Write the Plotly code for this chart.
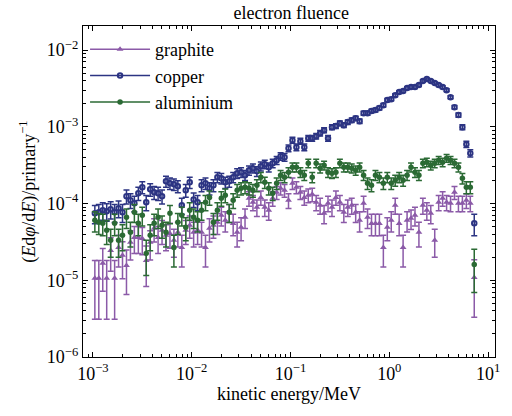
import plotly.graph_objects as go

# bin centres (MeV)
energy = [
    1.047e-3, 1.148e-3, 1.259e-3, 1.380e-3, 1.514e-3, 1.660e-3, 1.820e-3, 1.995e-3, 2.188e-3, 2.399e-3,
    2.630e-3, 2.884e-3, 3.162e-3, 3.467e-3, 3.802e-3, 4.169e-3, 4.571e-3, 5.012e-3, 5.495e-3, 6.026e-3,
    6.607e-3, 7.244e-3, 7.943e-3, 8.710e-3, 9.550e-3,
    1.047e-2, 1.148e-2, 1.259e-2, 1.380e-2, 1.514e-2, 1.660e-2, 1.820e-2, 1.995e-2, 2.188e-2, 2.399e-2,
    2.630e-2, 2.884e-2, 3.162e-2, 3.467e-2, 3.802e-2, 4.169e-2, 4.571e-2, 5.012e-2, 5.495e-2, 6.026e-2,
    6.607e-2, 7.244e-2, 7.943e-2, 8.710e-2, 9.550e-2,
    1.047e-1, 1.148e-1, 1.259e-1, 1.380e-1, 1.514e-1, 1.660e-1, 1.820e-1, 1.995e-1, 2.188e-1, 2.399e-1,
    2.630e-1, 2.884e-1, 3.162e-1, 3.467e-1, 3.802e-1, 4.169e-1, 4.571e-1, 5.012e-1, 5.495e-1, 6.026e-1,
    6.607e-1, 7.244e-1, 7.943e-1, 8.710e-1, 9.550e-1,
    1.047, 1.148, 1.259, 1.380, 1.514, 1.660, 1.820, 1.995, 2.188, 2.399,
    2.630, 2.884, 3.162, 3.467, 3.802, 4.169, 4.571, 5.012, 5.495, 6.026,
    6.607, 7.244,
]

UNIT = 1e-5  # values below are in units of 1e-5 per primary

graphite = [
    1.06, 1.06, 1.66, 1.06, 2.45, 1.06, 2.68, 2.11, 1.56, 3.12,
    3.62, 3.62, 3.51, 1.81, 3.12, 4.75, 3.62, 4.47, 3.85, 4.08,
    3.31, 4.21, 2.68, 4.47, 5.19, 4.21, 4.47, 4.21, 2.68, 4.75,
    5.19, 5.68, 7.01, 6.04, 7.67, 5.51, 4.21, 4.89, 6.60, 11.7,
    10.4, 8.92, 12.0, 8.92, 8.15, 11.7, 14.0, 15.8, 14.9, 11.0,
    18.4, 16.3, 14.0, 12.0, 12.8, 13.2, 10.4, 9.48, 7.45, 10.1,
    8.92, 12.0, 10.4, 7.67, 8.92, 9.48, 7.67, 6.04, 10.1, 6.60,
    5.51, 5.51, 5.51, 2.68, 4.89, 6.04, 9.48, 5.51, 2.68, 6.04,
    6.41, 7.01, 4.21, 9.48, 8.15, 7.45, 3.31, 10.4, 11.7, 10.4,
    10.1, 14.0, 10.1, 10.1, 11.0, 10.1, 1.09,
]
graphite_err = [
    0.75, 0.75, 0.94, 0.75, 1.14, 0.75, 1.19, 1.06, 0.91, 1.29,
    1.39, 1.39, 1.36, 0.98, 1.29, 1.59, 1.39, 1.54, 1.43, 1.47,
    1.32, 1.49, 1.19, 1.54, 1.66, 1.49, 1.54, 1.49, 1.19, 1.59,
    1.66, 1.73, 1.93, 1.79, 2.02, 1.71, 1.49, 1.61, 1.87, 2.49,
    2.35, 2.17, 2.52, 2.17, 2.08, 2.49, 2.72, 2.89, 2.81, 2.41,
    3.12, 2.94, 2.72, 2.52, 2.60, 2.65, 2.35, 2.24, 1.99, 2.31,
    2.17, 2.52, 2.35, 2.02, 2.17, 2.24, 2.02, 1.79, 2.31, 1.87,
    1.71, 1.71, 1.71, 1.19, 1.61, 1.79, 2.24, 1.71, 1.19, 1.79,
    1.84, 1.93, 1.49, 2.24, 2.08, 1.99, 1.32, 2.35, 2.49, 2.35,
    2.31, 2.72, 2.31, 2.31, 2.41, 2.31, 0.76,
]

copper = [
    7.45, 7.67, 8.15, 7.91, 8.40, 7.67, 8.65, 7.67, 12.4, 11.0,
    10.1, 13.6, 16.3, 10.4, 15.3, 14.0, 13.6, 12.4, 19.5, 18.4,
    17.8, 16.8, 9.48, 14.9, 18.9, 11.3, 10.4, 17.3, 18.4, 15.8,
    17.3, 22.0, 21.3, 18.9, 19.5, 22.0, 24.8, 25.5, 23.4, 27.1,
    28.8, 26.3, 30.6, 32.5, 29.7, 33.5, 36.6, 41.3, 40.1, 52.6,
    66.8, 54.2, 64.9, 54.2, 71.0, 71.0, 75.4, 82.5, 90.3, 71.0,
    98.8, 102, 111, 105, 115, 122, 129, 118, 150, 150,
    160, 165, 175, 191, 223, 229, 258, 283, 292, 319,
    329, 329, 349, 395, 418, 395, 371, 349, 329, 300,
    243, 180, 142, 98.8, 59.3, 45.2, 5.52,
]
copper_err = [
    1.99, 2.02, 2.08, 2.05, 2.11, 2.02, 2.14, 2.02, 2.56, 2.41,
    2.31, 2.68, 2.94, 2.35, 2.85, 2.72, 2.68, 2.56, 3.21, 3.12,
    3.07, 2.98, 2.24, 2.81, 3.17, 2.45, 2.35, 3.03, 3.12, 2.89,
    3.03, 3.41, 3.36, 3.17, 3.21, 3.41, 3.63, 3.68, 3.52, 3.79,
    3.91, 3.73, 4.03, 4.15, 3.97, 4.21, 4.40, 4.68, 4.61, 5.28,
    5.95, 5.36, 5.86, 5.36, 6.13, 6.13, 6.32, 6.61, 6.92, 6.13,
    7.24, 7.35, 7.67, 7.46, 7.81, 8.04, 8.27, 7.91, 8.92, 8.92,
    9.21, 9.35, 9.63, 10.1, 10.9, 11.0, 11.7, 12.2, 12.4, 13.0,
    13.2, 13.2, 13.6, 14.5, 14.9, 14.5, 14.0, 13.6, 13.2, 12.6,
    11.3, 9.77, 8.68, 7.24, 5.61, 4.89, 1.71,
]

aluminium = [
    6.04, 5.68, 5.52, 4.47, 3.31, 5.52, 3.31, 3.85, 6.60, 4.21,
    7.67, 5.52, 7.01, 2.24, 3.85, 5.52, 6.60, 5.19, 4.21, 7.45,
    2.68, 5.68, 7.01, 4.89, 8.15, 6.60, 6.04, 8.15, 10.4, 12.0,
    5.68, 8.15, 11.7, 12.8, 7.67, 11.0, 14.9, 15.8, 16.3, 15.8,
    14.9, 17.3, 22.0, 18.9, 15.8, 13.6, 18.4, 23.4, 22.0, 25.5,
    29.7, 29.7, 25.5, 23.4, 33.5, 22.0, 33.5, 28.8, 31.5, 25.5,
    24.8, 25.5, 33.5, 29.7, 29.7, 28.8, 27.1, 29.7, 23.4, 18.4,
    17.3, 23.4, 22.0, 18.4, 22.0, 18.4, 20.1, 22.0, 20.1, 23.4,
    29.7, 25.5, 23.4, 33.5, 34.5, 31.5, 33.5, 36.6, 34.5, 38.9,
    36.6, 33.5, 29.7, 21.3, 16.3, 16.3, 1.61,
]
aluminium_err = [
    1.79, 1.73, 1.71, 1.54, 1.32, 1.71, 1.32, 1.43, 1.87, 1.49,
    2.02, 1.71, 1.93, 1.09, 1.43, 1.71, 1.87, 1.66, 1.49, 1.99,
    1.19, 1.73, 1.93, 1.61, 2.08, 1.87, 1.79, 2.08, 2.35, 2.52,
    1.73, 2.08, 2.49, 2.60, 2.02, 2.41, 2.81, 2.89, 2.94, 2.89,
    2.81, 3.03, 3.41, 3.17, 2.89, 2.68, 3.12, 3.52, 3.41, 3.68,
    3.97, 3.97, 3.68, 3.52, 4.21, 3.41, 4.21, 3.91, 4.09, 3.68,
    3.63, 3.68, 4.21, 3.97, 3.97, 3.91, 3.79, 3.97, 3.52, 3.12,
    3.03, 3.52, 3.41, 3.12, 3.41, 3.12, 3.26, 3.41, 3.26, 3.52,
    3.97, 3.68, 3.52, 4.21, 4.28, 4.09, 4.21, 4.40, 4.28, 4.54,
    4.40, 4.21, 3.97, 3.36, 2.94, 2.94, 0.92,
]

x_tickvals = [1e-3, 1e-2, 1e-1, 1e0, 1e1]
x_ticktext = ["10<sup>−3</sup>", "10<sup>−2</sup>", "10<sup>−1</sup>", "10<sup>0</sup>", "10<sup>1</sup>"]
y_tickvals = [1e-6, 1e-5, 1e-4, 1e-3, 1e-2]
y_ticktext = ["10<sup>−6</sup>", "10<sup>−5</sup>", "10<sup>−4</sup>", "10<sup>−3</sup>", "10<sup>−2</sup>"]

FONT = "Times New Roman"
series = [
    ("graphite", graphite, graphite_err, "#8b5aa8", "triangle-up", 6, 0),
    ("copper", copper, copper_err, "#2c3483", "circle-open", 4.5, 2),
    ("aluminium", aluminium, aluminium_err, "#2b6a34", "circle", 5.5, 0),
]

fig = go.Figure()
for name, vals, errs, col, sym, size, lw in series:
    fig.add_trace(go.Scatter(
        x=energy, y=[v * UNIT for v in vals], mode="markers", name=name,
        showlegend=False,
        marker=dict(symbol=sym, size=size, color=col, line=dict(color=col, width=lw)),
        error_y=dict(type="data", array=[e * UNIT for e in errs], visible=True,
                     color=col, thickness=1.5, width=3),
    ))
for name, vals, errs, col, sym, size, lw in series:
    fig.add_trace(go.Scatter(
        x=[None], y=[None], mode="lines+markers", name=name,
        line=dict(color=col, width=1.5),
        marker=dict(symbol=sym, size=size, color=col, line=dict(color=col, width=lw)),
    ))

minor_vals = [m * 10.0 ** e for e in range(-7, 2) for m in range(2, 10)]
axis_common = dict(
    type="log", showline=True, linecolor="black", linewidth=1.3, mirror="ticks",
    ticks="inside", ticklen=5, tickwidth=1, tickcolor="black", showgrid=False, zeroline=False,
    tickfont=dict(family=FONT, size=18, color="black"), ticklabeloverflow="allow",
    minor=dict(ticks="inside", ticklen=3, tickwidth=1, tickcolor="black", tickvals=minor_vals, showgrid=False),
)
fig.update_xaxes(**axis_common, range=[-3.1, 1.07], tickmode="array",
                 tickvals=x_tickvals, ticktext=x_ticktext,
                 title=dict(text="kinetic energy/MeV", font=dict(family=FONT, size=18, color="black"), standoff=2))
fig.update_yaxes(**axis_common, range=[-6.0, -1.687], tickmode="array",
                 tickvals=y_tickvals, ticktext=y_ticktext,
                 title=dict(text="(<i>E</i>d<i>φ</i>/d<i>E</i>)/primary<sup>−1</sup>",
                            font=dict(family=FONT, size=18, color="black"), standoff=6))
fig.update_layout(
    width=512, height=416,
    margin=dict(l=83, r=12, t=26, b=59),
    paper_bgcolor="white", plot_bgcolor="white",
    title=dict(text="electron fluence", x=0.569, xanchor="center", y=0.985, yanchor="top",
               font=dict(family=FONT, size=18, color="black")),
    legend=dict(x=0.005, y=0.985, xanchor="left", yanchor="top", bgcolor="rgba(0,0,0,0)",
                font=dict(family=FONT, size=18, color="black"), tracegroupgap=0, itemwidth=60),
    font=dict(family=FONT, color="black"),
)
fig.write_html("out.html", config={"displayModeBar": False},
               post_script="document.body.style.margin='0';")
